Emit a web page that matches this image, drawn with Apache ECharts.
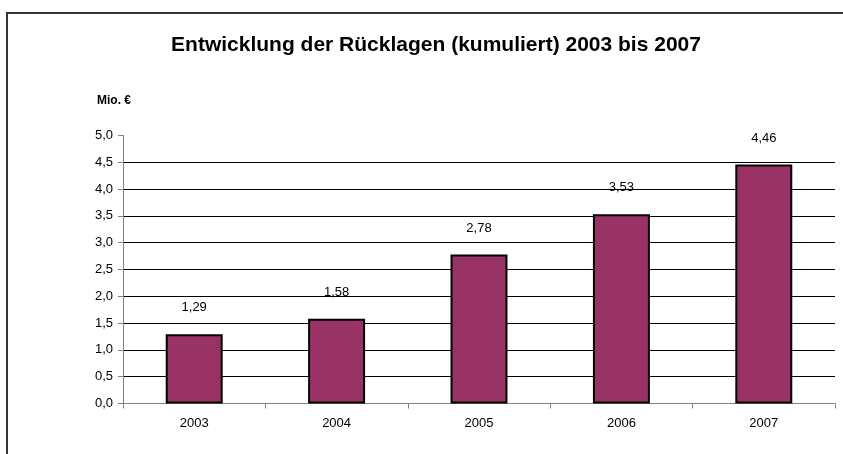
<!DOCTYPE html>
<html><head><meta charset="utf-8">
<script src="https://cdn.jsdelivr.net/npm/echarts@6/dist/echarts.min.js"></script>
<style>html,body{margin:0;padding:0;background:#fff}#c{width:843px;height:454px}</style>
</head><body><div id="c"></div>
<script>
const titleText = 'Entwicklung der Rücklagen (kumuliert) 2003 bis 2007';
const unitLabel = 'Mio. €';
const categories = ['2003', '2004', '2005', '2006', '2007'];
const values = [1.29, 1.58, 2.78, 3.53, 4.46];
const yMin = 0, yMax = 5, yStep = 0.5;

const chart = echarts.init(document.getElementById('c'), null, {renderer: 'canvas'});
const fmt = v => v.toFixed(2).replace('.', ',');
chart.setOption({
  animation: false,
  backgroundColor: '#fff',
  title: {
    text: titleText, left: 431, top: 30, textAlign: 'center',
    textStyle: {fontFamily: 'Liberation Sans, Arial', fontWeight: 'bold', fontSize: 21, color: '#000'}
  },
  graphic: [
    {type: 'rect', shape: {x: 7, y: 13, width: 900, height: 500}, style: {fill: 'none', stroke: '#333', lineWidth: 2}, silent: true},
    {type: 'text', left: 97, top: 95, style: {text: unitLabel, font: 'bold 12px "Liberation Sans", Arial', fill: '#000'}}
  ],
  grid: {left: 123, right: 8, top: 135.5, bottom: 50.5, containLabel: false},
  xAxis: {
    type: 'category', data: categories,
    axisLine: {lineStyle: {color: '#808080', width: 1}},
    axisTick: {show: true, length: 5, lineStyle: {color: '#808080'}},
    axisLabel: {margin: 13, fontFamily: 'Liberation Sans, Arial', fontSize: 13, color: '#000'}
  },
  yAxis: {
    type: 'value', min: yMin, max: yMax, interval: yStep,
    axisLine: {show: true, lineStyle: {color: '#808080', width: 1}},
    axisTick: {show: true, length: 5, lineStyle: {color: '#808080'}},
    axisLabel: {margin: 10, fontFamily: 'Liberation Sans, Arial', fontSize: 13, color: '#000', formatter: v => v.toFixed(1).replace('.', ',')},
    splitLine: {show: true, showMinLine: false, showMaxLine: false, lineStyle: {color: '#000', width: 1}}
  },
  series: [{
    type: 'bar', data: values, barCategoryGap: '60%',
    itemStyle: {color: '#993366', borderColor: '#000', borderWidth: 2},
    label: {show: true, position: 'top', distance: 20, formatter: p => fmt(p.value),
      fontFamily: 'Liberation Sans, Arial', fontSize: 13, color: '#000'}
  }]
});
</script></body></html>
